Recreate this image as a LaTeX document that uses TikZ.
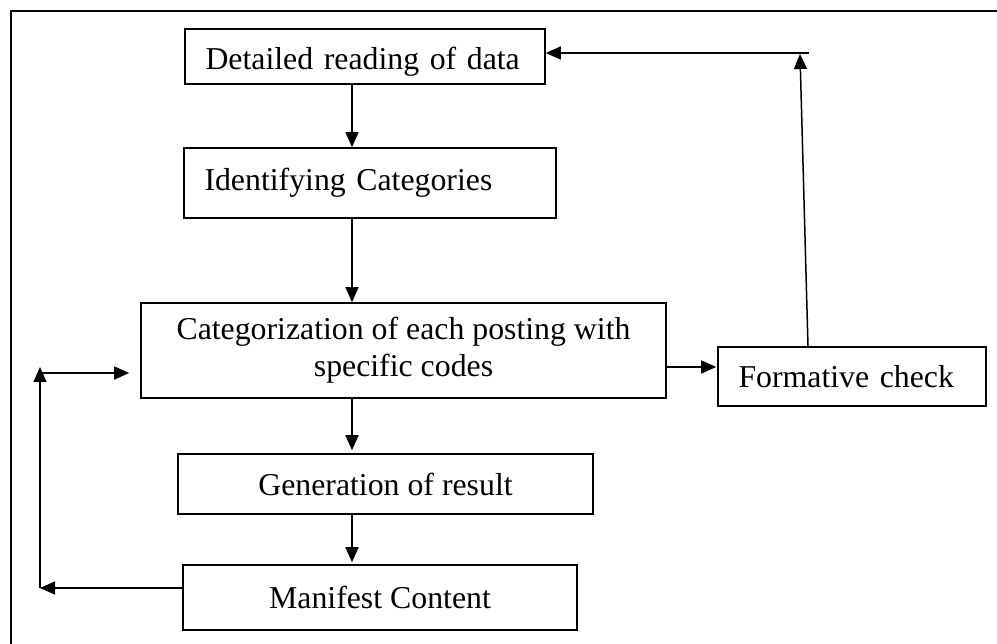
\documentclass[tikz,border=0pt]{standalone}
\usepackage{fontspec}
\setmainfont{Liberation Serif}
\usetikzlibrary{arrows.meta,calc}
\begin{document}
\begin{tikzpicture}[x=1pt,y=-1pt,
  box/.style={draw, line width=1.6pt, rectangle, inner sep=0pt,
    font={\fontsize{31.8pt}{37pt}\selectfont}},
  leftbox/.style={box, inner xsep=20.5pt, align=left},
  ctrbox/.style={box, align=center},
  arr/.style={line width=1.5pt, -{Triangle[length=15pt,width=13pt]}},
  plain/.style={line width=1.5pt}]
\useasboundingbox (0,0) rectangle (997,644);
% frame
\draw[line width=2pt] (997,11) -- (11,11) -- (11,644);
% boxes
\node[leftbox, text width=319pt, minimum height=55pt, text height=27pt, text depth=0pt] (b1) at (365,56.5) {Detailed reading of data};
\node[leftbox, text width=331pt, minimum height=70pt] (b2) at (370,183) {Identifying Categories};
\node[ctrbox, minimum width=525pt, minimum height=95pt] (b3) at (403.5,350.5) {Categorization of each posting with\\specific codes};
\node[ctrbox, minimum width=415pt, minimum height=60pt] (b4) at (385.5,484) {Generation of result};
\node[ctrbox, minimum width=394pt, minimum height=65pt] (b5) at (380,597.5) {Manifest Content};
\node[leftbox, text width=227pt, minimum height=59pt] (b6) at (852,376.5) {Formative check};
% main vertical arrows
\coordinate (vx) at (352,0);
\draw[arr] (vx |- b1.south) -- (vx |- b2.north);
\draw[arr] (vx |- b2.south) -- (vx |- b3.north);
\draw[arr, shorten >=3pt] (vx |- b3.south) -- (vx |- b4.north);
\draw[arr, shorten >=2pt] (vx |- b4.south) -- (vx |- b5.north);
% right feedback loop
\coordinate (ry) at (0,367);
\draw[arr, shorten >=1pt] (b3.east |- ry) -- (b6.west |- ry);
\coordinate (fx) at (808,0);
\coordinate (up) at (800,54);
\draw[arr] (fx |- b6.north) -- (up);
\coordinate (tr) at (809,53);
\draw[arr] (tr) -- (b1.east |- tr);
% left feedback loop
\coordinate (bl) at (40,588);
\coordinate (tl) at (40,373);
\coordinate (tlu) at (40,367);
\draw[arr] (b5.west |- bl) -- (bl);
\draw[arr] (bl) -- (tlu);
\draw[arr, shorten >=11pt] (tl) -- (b3.west |- tl);
\end{tikzpicture}
\end{document}
